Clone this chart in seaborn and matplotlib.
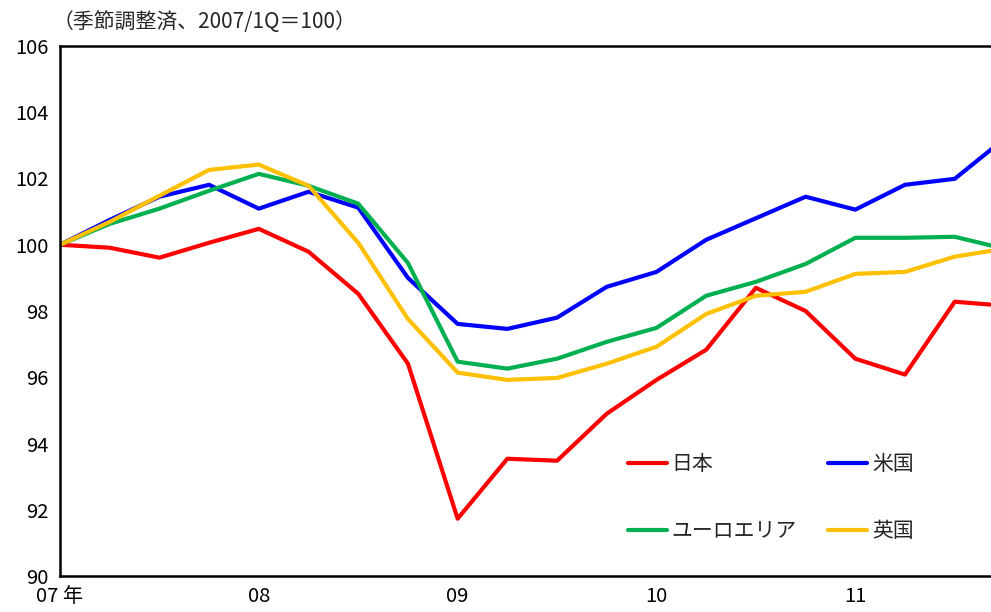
import matplotlib

matplotlib.use("Agg")

import matplotlib.pyplot as plt
import pandas as pd
import seaborn as sns

# quarterly index, 2007Q1 .. 2011Q4 (last quarter is cut off by the frame)
quarters = list(range(20))
japan = [100.0, 99.91, 99.61, 100.06, 100.48, 99.79, 98.52, 96.41, 91.73, 93.54,
         93.48, 94.90, 95.92, 96.83, 98.70, 98.00, 96.56, 96.08, 98.28, 98.16]
usa = [100.0, 100.75, 101.45, 101.81, 101.09, 101.60, 101.12, 99.00, 97.61, 97.46,
       97.80, 98.73, 99.18, 100.15, 100.80, 101.45, 101.06, 101.81, 101.99, 103.20]
euro = [100.0, 100.63, 101.09, 101.63, 102.14, 101.78, 101.24, 99.45, 96.47, 96.26,
        96.56, 97.07, 97.49, 98.46, 98.88, 99.42, 100.21, 100.21, 100.24, 99.88]
uk = [100.0, 100.69, 101.48, 102.26, 102.42, 101.78, 100.06, 97.76, 96.14, 95.92,
      95.98, 96.41, 96.92, 97.91, 98.46, 98.58, 99.12, 99.18, 99.64, 99.88]

series_names = ["日本", "米国", "ユーロエリア", "英国"]
series_colors = ["#FF0000", "#0000FF", "#00B050", "#FFC000"]
year_ticks = [0, 4, 8, 12, 16]
year_labels = ["07 年", "08", "09", "10", "11"]
y_ticks = [90, 92, 94, 96, 98, 100, 102, 104, 106]

sns.set_style("white")
plt.rcParams["font.family"] = ["Noto Sans CJK JP", "DejaVu Sans"]

df = pd.DataFrame({
    "q": quarters * 4,
    "value": japan + usa + euro + uk,
    "country": sum([[n] * len(quarters) for n in series_names], []),
})

fig = plt.figure(figsize=(9.91, 6.12), dpi=100)
ax = fig.add_axes([60 / 991, 36 / 612, 931 / 991, 530 / 612])

lines = {}
for name, color in zip(series_names, series_colors):
    sub = df[df["country"] == name]
    sns.lineplot(data=sub, x="q", y="value", color=color, lw=3, ax=ax, label=name)
    lines[name] = ax.get_lines()[-1]

ax.set_xlim(0, 18.73)
ax.set_ylim(90, 106)
ax.set_xticks(year_ticks)
ax.set_xticklabels(year_labels)
ax.set_yticks(y_ticks)
ax.set_xlabel("")
ax.set_ylabel("")
ax.tick_params(axis="both", direction="out", length=6, width=1.5, color="black",
               labelsize=14.5, labelcolor="black", pad=2)
ax.tick_params(axis="x", pad=1)
for side in ["left", "top", "bottom"]:
    ax.spines[side].set_color("black")
    ax.spines[side].set_linewidth(1.8)
ax.spines["right"].set_visible(False)

order = ["日本", "ユーロエリア", "米国", "英国"]
ax.legend([lines[n] for n in order], order, ncol=2, frameon=False,
          loc="upper left", bbox_to_anchor=(628 / 991, 1 - 453 / 612),
          bbox_transform=fig.transFigure, borderpad=0, borderaxespad=0,
          fontsize=15, handlelength=1.85, handletextpad=0.25,
          columnspacing=1.5, labelspacing=2.15)

fig.text(53 / 991, 1 - 22 / 612, "（季節調整済、2007/1Q＝100）", fontsize=15,
         va="center", ha="left")

fig.savefig("out.png", dpi=100)
